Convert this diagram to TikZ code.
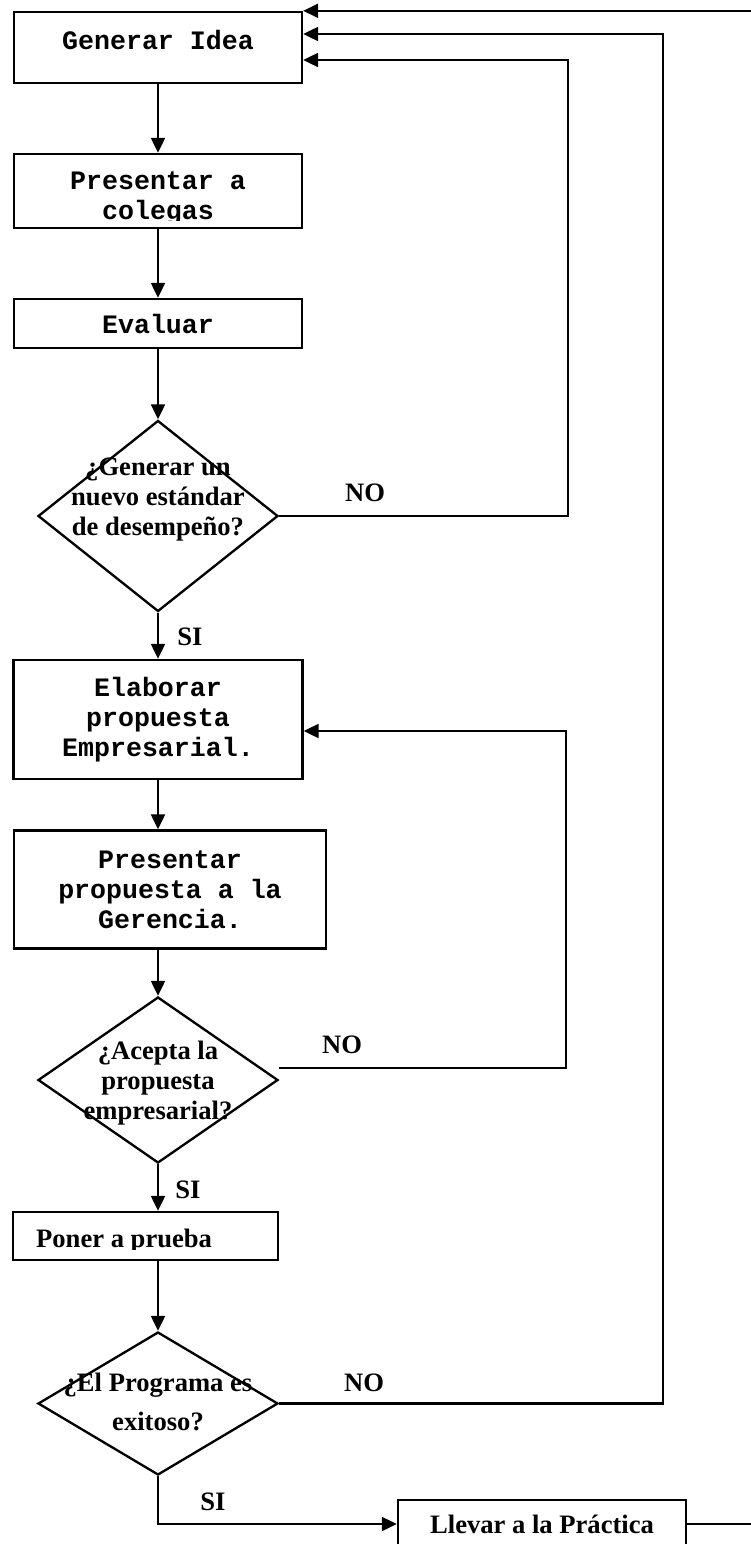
\documentclass[tikz,border=0pt]{standalone}
\usepackage{fontspec}
\setmainfont{Liberation Serif}
\setmonofont{Liberation Mono}
\usetikzlibrary{arrows.meta,shapes.geometric}

\tikzset{
  caja/.style={draw, rectangle, inner sep=0pt, align=center,
    font=\ttfamily\bfseries\fontsize{12.5}{14.1}\selectfont},
  cajaserif/.style={caja, font=\bfseries\fontsize{12.5}{14.1}\selectfont},
  textocaja/.style={align=center, inner sep=0pt, font=\ttfamily\bfseries\fontsize{12.5}{14.1}\selectfont},
  rombo/.style={draw, diamond, inner sep=0pt, minimum width=112.8pt},
  pregunta/.style={align=center, inner sep=0pt, font=\bfseries\fontsize{12.5}{14.1}\selectfont},
  etiqueta/.style={inner sep=0pt, font=\bfseries\fontsize{12.5}{14.1}\selectfont}
}

\begin{document}
\begin{tikzpicture}[x=0.47pt, y=-0.47pt, line width=1.1pt,
    >={Triangle[length=7pt,width=6.5pt]}]
  \useasboundingbox (0,0) rectangle (751,1544);

  % Cajas y rombos
  \node[caja, minimum width=135.36pt, minimum height=33.37pt, text depth=7.3pt] (idea) at (158,47.5) {Generar Idea};

  \node[caja, minimum width=135.36pt, minimum height=34.78pt] (colegas) at (158,191) {};
  \begin{scope}
    \clip (colegas.north west) rectangle ([yshift=4.2pt]colegas.south east);
    \node[textocaja] (colegastxt) at (158,198) {Presentar a\\colegas};
  \end{scope}

  \node[caja, minimum width=135.36pt, minimum height=23.03pt] (evaluar) at (158,323.5) {Evaluar};

  \node[rombo, minimum height=89.77pt] (d1) at (158,516) {};
  \node[pregunta] (t1) at (158,500) {¿Generar un\\nuevo estándar\\de desempeño?};

  \node[caja, minimum width=135.83pt, minimum height=55.93pt] (elaborar) at (158,719.5) {Elaborar\\propuesta\\Empresarial.};
  \node[caja, minimum width=146.64pt, minimum height=55.46pt] (gerencia) at (170,889.5) {Presentar\\propuesta a la\\Gerencia.};

  \node[rombo, minimum height=78.02pt] (d2) at (158,1080) {};
  \node[pregunta] (t2) at (158,1083) {¿Acepta la\\propuesta\\empresarial?};

  \node[cajaserif, minimum width=124.55pt, minimum height=22.56pt] (prueba) at (145.5,1236) {};
  \begin{scope}
    \clip (prueba.north west) rectangle ([yshift=5.64pt]prueba.south east);
    \node[etiqueta, anchor=west] (pruebatxt) at (35,1241) {Poner a prueba};
  \end{scope}

  \node[rombo, minimum height=67.21pt] (d3) at (158,1403.5) {};
  \node[pregunta, font=\bfseries\fontsize{12.5}{18.3}\selectfont] (t3) at (158,1402) {¿El Programa es\\exitoso?};

  \node[cajaserif, minimum width=135.36pt, minimum height=22.56pt] (practica) at (542,1524) {Llevar a la Práctica};

  % Flechas principales
  \draw[->] (idea) -- (colegas);
  \draw[->] (colegas) -- (evaluar);
  \draw[->] (evaluar) -- (d1);
  \draw[->] (d1.south) -- (d1.south |- elaborar.north);
  \draw[->] (elaborar.south) -- (elaborar.south |- gerencia.north);
  \draw[->] (gerencia.south -| d2.north) -- (d2.north);
  \draw[->] (d2.south) -- (d2.south |- prueba.north);
  \draw[->] (prueba.south -| d3.north) -- (d3.north);
  \draw[->] (d3.south) |- (practica.west);

  % Retornos
  \coordinate (r1) at (568,60);
  \coordinate (r2) at (566,731);
  \coordinate (r3) at (663,34);
  \coordinate (r4) at (idea.north east -| 760,0);
  \draw[->] (d1.east) -| (r1) -- (r1 -| idea.east);
  \draw[->] ([yshift=5.64pt]d2.east) -| (r2) -- (r2 -| elaborar.east);
  \draw[->] (d3.east) -| (r3) -- (r3 -| idea.east);
  \draw[->] (practica.east) -| (r4) -- (idea.north east);

  % Etiquetas
  \node[etiqueta] (no1) at (365,493) {NO};
  \node[etiqueta] (no2) at (342,1045) {NO};
  \node[etiqueta] (no3) at (364,1383) {NO};
  \node[etiqueta] (si1) at (190,637) {SI};
  \node[etiqueta] (si2) at (188,1190) {SI};
  \node[etiqueta] (si3) at (213,1502) {SI};
\end{tikzpicture}
\end{document}
